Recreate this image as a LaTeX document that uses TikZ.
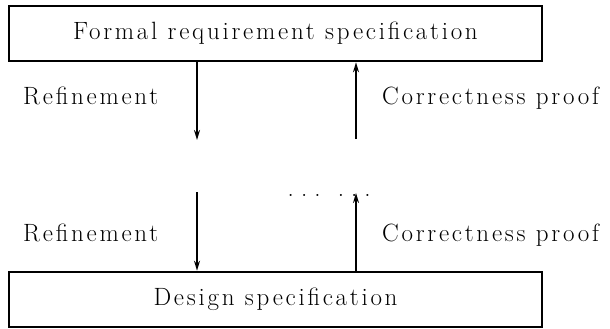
\documentclass[tikz,border=0pt]{standalone}
\usepackage{fontspec}
\setmainfont{Latin Modern Roman}
\newfontfamily\spfont{Latin Modern Roman}[LetterSpace=11]
\usetikzlibrary{arrows.meta}
\begin{document}
\begin{tikzpicture}[x=1pt,y=-1pt,
  textsize/.style={font=\spfont\fontsize{25}{30}\selectfont},
  box/.style={draw,line width=2.6pt,minimum width=533pt,minimum height=55pt,inner sep=0pt,textsize},
  lbl/.style={inner sep=0pt,anchor=base west,textsize},
  arr/.style={line width=1.6pt,-{Stealth[length=10pt,width=6pt]}}]
\useasboundingbox (0,0) rectangle (610,329);
\node[box] (top) at (275.5,33.5) {Formal requirement specification};
\node[box] (bot) at (275.5,299.5) {Design specification};
\coordinate (l1) at (197,140);
\coordinate (r1) at (356,139);
\coordinate (l2) at (197,192);
\coordinate (r2) at (356,193);
\draw[arr] (top.south -| l1) -- (l1);
\draw[arr] (r1) -- (top.south -| r1);
\draw[arr] (l2) -- (bot.north -| l2);
\draw[arr] (bot.north -| r2) -- (r2);
\node[lbl] (ref1) at (23,104) {Refinement};
\node[lbl] (ref2) at (23,241) {Refinement};
\node[lbl] (cp1) at (382,104) {Correctness proof};
\node[lbl] (cp2) at (382,241) {Correctness proof};
\node[inner sep=0pt,anchor=base west,font=\fontsize{25}{30}\selectfont] (dots) at (287.5,196)
  {.\hspace{7.1pt}.\hspace{7.1pt}.\hspace{17.1pt}.\hspace{7.1pt}.\hspace{7.1pt}.};
\end{tikzpicture}
\end{document}
